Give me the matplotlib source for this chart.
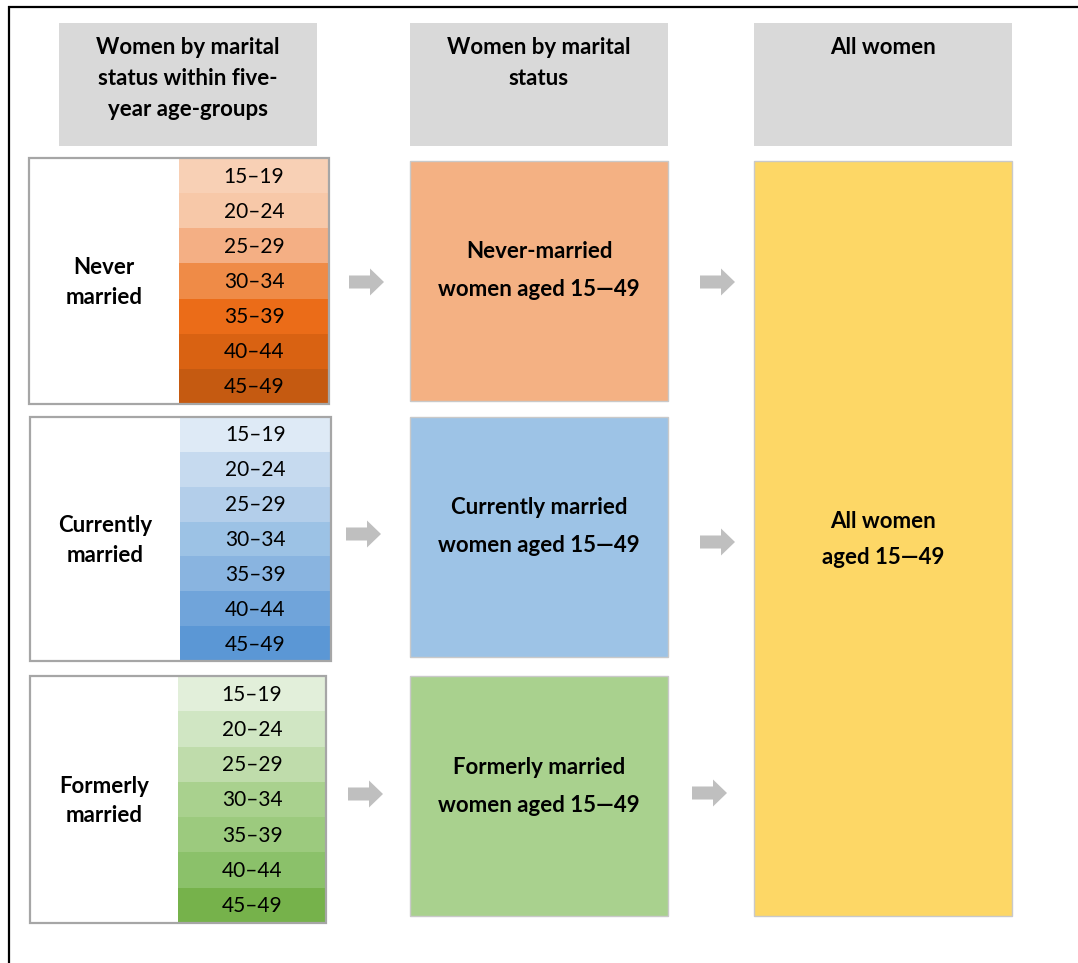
import matplotlib
matplotlib.use("Agg")
import matplotlib.pyplot as plt
from matplotlib.patches import Rectangle, FancyArrow

plt.rcParams['font.family'] = ['Lato', 'DejaVu Sans']

# Dados do diagrama
age_groups = ["15–19", "20–24", "25–29", "30–34", "35–39", "40–44", "45–49"]
status_labels = ["Never\nmarried", "Currently\nmarried", "Formerly\nmarried"]
middle_labels = ["Never-married\nwomen aged 15—49",
                 "Currently married\nwomen aged 15—49",
                 "Formerly married\nwomen aged 15—49"]
header_labels = ["Women by marital\nstatus within five-\nyear age-groups",
                 "Women by marital\nstatus",
                 "All women"]
right_label = "All women\naged 15—49"

orange_cells = ["#F8D0B5", "#F7C8A8", "#F4AF84", "#EF8B47", "#EB6C18", "#D96212", "#C55A11"]
blue_cells = ["#DEEAF6", "#C6DAEF", "#B3CEEA", "#9CC2E5", "#89B4E0", "#70A4DA", "#5B97D5"]
green_cells = ["#E2EFDA", "#D0E6C3", "#BFDCAB", "#A9D18E", "#9CCA7E", "#8BC16A", "#76B24B"]
cell_colors = [orange_cells, blue_cells, green_cells]
middle_colors = ["#F4B183", "#9DC3E6", "#A9D18E"]
right_color = "#FDD766"


# Escreve cada linha do rótulo numa posição fixa (primeira linha em y0)
def write_lines(ax, x, y0, label, step, **kw):
    for k, line in enumerate(label.split("\n")):
        ax.text(x, y0 + k * step, line, ha="center", va="center", **kw)


# Layout em pixels
W, H = 1078, 963
fig = plt.figure(figsize=(W / 100, H / 100), dpi=100)
ax = fig.add_axes([0, 0, 1, 1])
ax.set_xlim(0, W)
ax.set_ylim(H, 0)
ax.axis("off")

# moldura externa (só topo e esquerda visíveis)
ax.plot([8, W], [7, 7], color="black", lw=1.6, solid_capstyle="butt")
ax.plot([9, 9], [6, H], color="black", lw=1.6, solid_capstyle="butt")

# cabeçalhos
header_x = [(59, 317), (410, 668), (754, 1012)]
for (x0, x1), label in zip(header_x, header_labels):
    ax.add_patch(Rectangle((x0, 23), x1 - x0, 123, facecolor="#D9D9D9", edgecolor="none"))
    write_lines(ax, (x0 + x1) / 2, 47, label, 31.5, fontsize=16, fontweight="bold")

# blocos da esquerda
left_boxes = [(29, 329, 158, 404), (30, 331, 417, 661), (30, 326, 676, 923)]
cell_x0 = [179, 180, 178]
for i, (x0, x1, y0, y1) in enumerate(left_boxes):
    h = (y1 - y0) / len(age_groups)
    for j, (age, col) in enumerate(zip(age_groups, cell_colors[i])):
        yy = y0 + j * h
        ax.add_patch(Rectangle((cell_x0[i], yy), x1 - cell_x0[i], h,
                               facecolor=col, edgecolor="none", zorder=2))
        ax.text((cell_x0[i] + x1) / 2, yy + h / 2 + 1, age, ha="center", va="center",
                fontsize=15, zorder=3)
    ax.add_patch(Rectangle((x0, y0), x1 - x0, y1 - y0, facecolor="none",
                           edgecolor="#A6A6A6", lw=1.6, zorder=4))
    ym = (y0 + y1) / 2
    write_lines(ax, (x0 + cell_x0[i]) / 2, ym - 13, status_labels[i], 29,
                fontsize=16, fontweight="bold")

# blocos do meio
middle_y = [(161, 401), (417, 657), (676, 916)]
for (y0, y1), label, col in zip(middle_y, middle_labels, middle_colors):
    ax.add_patch(Rectangle((410, y0), 258, y1 - y0, facecolor=col,
                           edgecolor="#C9C9C9", lw=1.0))
    write_lines(ax, 539, y0 + 91, label, 38, fontsize=16, fontweight="bold")

# bloco da direita
ax.add_patch(Rectangle((754, 161), 258, 755, facecolor=right_color,
                       edgecolor="#C9C9C9", lw=1.0))
write_lines(ax, 883, 521, right_label, 37, fontsize=16, fontweight="bold")

# setas
arrows = [(349, 282), (700, 282), (346, 534), (700, 542), (348, 794), (692, 793)]
for ax0, ay in arrows:
    ax.add_patch(FancyArrow(ax0, ay, 35, 0, width=13, head_width=27, head_length=14,
                            length_includes_head=True, facecolor="#BFBFBF",
                            edgecolor="none"))

fig.savefig("out.png", dpi=100)
